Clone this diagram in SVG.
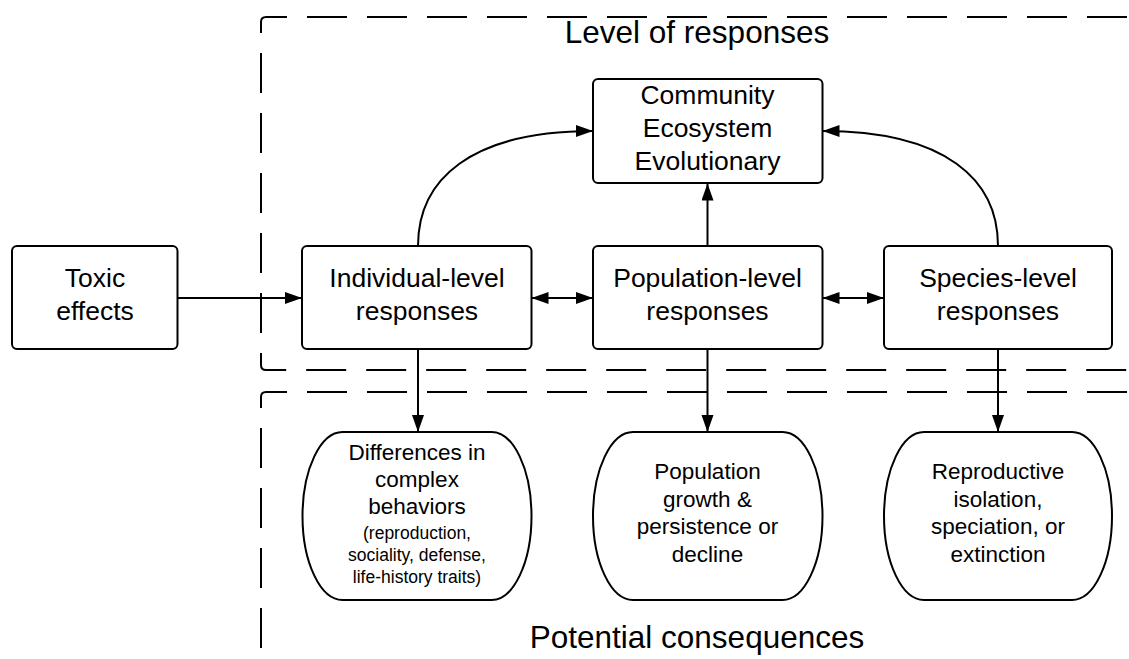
<svg xmlns="http://www.w3.org/2000/svg" width="1129" height="659" viewBox="0 0 1129 659">
<style>
.bg{fill:#ffffff}
.box{fill:#ffffff;stroke:#000;stroke-width:2}
.dash{fill:none;stroke:#000;stroke-width:2;stroke-dasharray:40 20}
.con{fill:none;stroke:#000;stroke-width:2}
.t{font-family:"Liberation Sans",Arial,sans-serif;fill:#000;text-anchor:middle}
.n{font-size:26.5px}
.p{font-size:22.5px}
.s{font-size:17.5px}
.h{font-size:31.5px}
</style>
<defs>
<marker id="ah" markerUnits="userSpaceOnUse" markerWidth="18" markerHeight="13" refX="17" refY="6" orient="auto-start-reverse">
<path d="M0,0 L17,6 L0,12 Z" fill="#000"/>
</marker>
</defs>
<rect class="bg" x="0" y="0" width="1129" height="659"/>
<g id="frames">
<path class="dash" d="M1135,17 H266 Q261,17 261,22 V365 Q261,370 266,370 H1135" stroke-dashoffset="52"/>
<path class="dash" d="M1135,392 H266 Q261,392 261,397 V665" stroke-dashoffset="52"/>
<text class="t h" x="697" y="43">Level of responses</text>
<text class="t h" x="697" y="648">Potential consequences</text>
</g>
<g id="connectors">
<path class="con" d="M177.5,298 H302" marker-end="url(#ah)"/>
<path class="con" d="M531.5,298 H593" marker-start="url(#ah)" marker-end="url(#ah)"/>
<path class="con" d="M822.5,298 H884" marker-start="url(#ah)" marker-end="url(#ah)"/>
<path class="con" d="M707.5,246 V183.5" marker-end="url(#ah)"/>
<path class="con" d="M418,246 C418,180 470,131 593,131" marker-end="url(#ah)"/>
<path class="con" d="M998,246 C998,180 946,131 822.5,131" marker-end="url(#ah)"/>
<path class="con" d="M418,349 V432" marker-end="url(#ah)"/>
<path class="con" d="M707.5,349 V432" marker-end="url(#ah)"/>
<path class="con" d="M998,349 V432" marker-end="url(#ah)"/>
</g>
<g id="toxic">
<rect class="box" x="12" y="246" width="165.5" height="103" rx="5"/>
<text class="t n" x="95" y="287">Toxic</text>
<text class="t n" x="95" y="320">effects</text>
</g>
<g id="individual">
<rect class="box" x="302" y="246" width="229.5" height="103" rx="5"/>
<text class="t n" x="417" y="287">Individual-level</text>
<text class="t n" x="417" y="320">responses</text>
</g>
<g id="population">
<rect class="box" x="593" y="246" width="229.5" height="103" rx="5"/>
<text class="t n" x="707.5" y="287">Population-level</text>
<text class="t n" x="707.5" y="320">responses</text>
</g>
<g id="species">
<rect class="box" x="884" y="246" width="228" height="103" rx="5"/>
<text class="t n" x="998" y="287">Species-level</text>
<text class="t n" x="998" y="320">responses</text>
</g>
<g id="community">
<rect class="box" x="593" y="79" width="229.5" height="104" rx="5"/>
<text class="t n" x="707.5" y="104">Community</text>
<text class="t n" x="707.5" y="137">Ecosystem</text>
<text class="t n" x="707.5" y="170">Evolutionary</text>
</g>
<g id="behaviors">
<path class="box" d="M342.5,432 H491.5 A40,84 0 0 1 491.5,600 H342.5 A40,84 0 0 1 342.5,432 Z"/>
<text class="t p" x="417" y="460">Differences in</text>
<text class="t p" x="417" y="487">complex</text>
<text class="t p" x="417" y="514">behaviors</text>
<text class="t s" x="417" y="539">(reproduction,</text>
<text class="t s" x="417" y="561">sociality, defense,</text>
<text class="t s" x="417" y="583">life-history traits)</text>
</g>
<g id="growth">
<path class="box" d="M633,432 H782.5 A40,84 0 0 1 782.5,600 H633 A40,84 0 0 1 633,432 Z"/>
<text class="t p" x="707.5" y="479">Population</text>
<text class="t p" x="707.5" y="507">growth &amp;</text>
<text class="t p" x="707.5" y="534">persistence or</text>
<text class="t p" x="707.5" y="562">decline</text>
</g>
<g id="isolation">
<path class="box" d="M924,432 H1072 A40,84 0 0 1 1072,600 H924 A40,84 0 0 1 924,432 Z"/>
<text class="t p" x="998" y="479">Reproductive</text>
<text class="t p" x="998" y="507">isolation,</text>
<text class="t p" x="998" y="534">speciation, or</text>
<text class="t p" x="998" y="562">extinction</text>
</g>
</svg>
